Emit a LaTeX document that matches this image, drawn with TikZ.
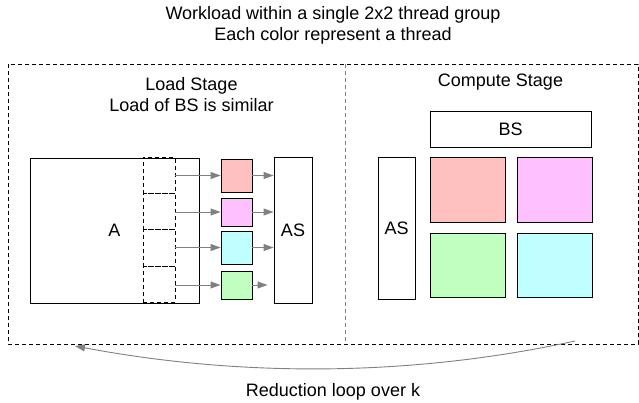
\documentclass[tikz,border=0pt]{standalone}
\usepackage{fontspec}
\setmainfont{Liberation Sans}
\usetikzlibrary{arrows.meta}

\definecolor{thrRed}{RGB}{255,192,192}
\definecolor{thrMag}{RGB}{255,192,255}
\definecolor{thrCyan}{RGB}{192,255,255}
\definecolor{thrGreen}{RGB}{192,255,192}

\begin{document}
\begin{tikzpicture}[x=1pt,y=-1pt,
	every node/.style={font=\fontsize{18}{21}\selectfont},
	blk/.style={draw,line width=0.9pt,inner sep=0pt},
	part/.style={draw,dash pattern=on 4pt off 3pt,line width=0.9pt,inner sep=0pt,minimum width=32pt,minimum height=36.25pt},
	thr/.style={blk,minimum width=31pt},
	tile/.style={blk,minimum width=75pt},
	flow/.style={draw=gray,line width=0.9pt,-{Triangle[length=10pt,width=7pt]}}]
		\useasboundingbox (0,0) rectangle (639,402);
		% frame of the two stages
		\draw[dash pattern=on 4pt off 3pt,line width=0.8pt] (8,64) rectangle (638,344);
		\draw[dash pattern=on 4pt off 3pt,line width=0.8pt,gray] (345,64) -- (345,344);
		\node[align=center] (title) at (333,25) {Workload within a single 2x2 thread group\\Each color represent a thread};
		\node[align=center] (loadLbl) at (191.5,95) {Load Stage\\Load of BS is similar};
		\node (compLbl) at (500.5,82) {Compute Stage};
		% load stage
		\node[blk,minimum width=169pt,minimum height=145pt] (A) at (114.5,230.5) {A};
		\foreach \i in {0,...,3}
			\node[part] (d\i) at (159,{175.5+36.25*\i}) {};
		\node[thr,minimum height=33pt,fill=thrRed] (c0) at (236.5,175.5) {};
		\node[thr,minimum height=28pt,fill=thrMag] (c1) at (236.5,212) {};
		\node[thr,minimum height=33pt,fill=thrCyan] (c2) at (236.5,247.5) {};
		\node[thr,minimum height=28pt,fill=thrGreen] (c3) at (236.5,285) {};
		\node[blk,minimum width=38pt,minimum height=146pt] (asL) at (293,230) {AS};
		\foreach \i in {0,...,3}
			\draw[flow] (c\i.west -| d\i.east) -- (c\i.west);
		\foreach \i in {0,1,2}
			\draw[flow] (c\i.east) -- (c\i.east -| asL.west);
		\draw[flow,shorten >=6pt] (c3.east) -- (c3.east -| asL.west);
		% compute stage
		\node[blk,minimum width=37pt,minimum height=142pt] (asC) at (396.5,228) {AS};
		\node[blk,minimum width=161pt,minimum height=36pt] (bs) at (510.5,129) {BS};
		\node[tile,minimum height=65pt,fill=thrRed] (tRed) at (467.5,189.5) {};
		\node[tile,minimum height=65pt,fill=thrMag] (tMag) at (554.5,189.5) {};
		\node[tile,minimum height=64pt,fill=thrGreen] (tGreen) at (467.5,265) {};
		\node[tile,minimum height=64pt,fill=thrCyan] (tCyan) at (554.5,265) {};
		% loop back
		\coordinate (loopS) at (575,341);
		\coordinate (loopE) at (75,346);
		\draw[flow] (loopS) .. controls (410,377) and (240,377) .. (loopE);
		\node (loopLbl) at (333,392) {Reduction loop over k};
\end{tikzpicture}
\end{document}
